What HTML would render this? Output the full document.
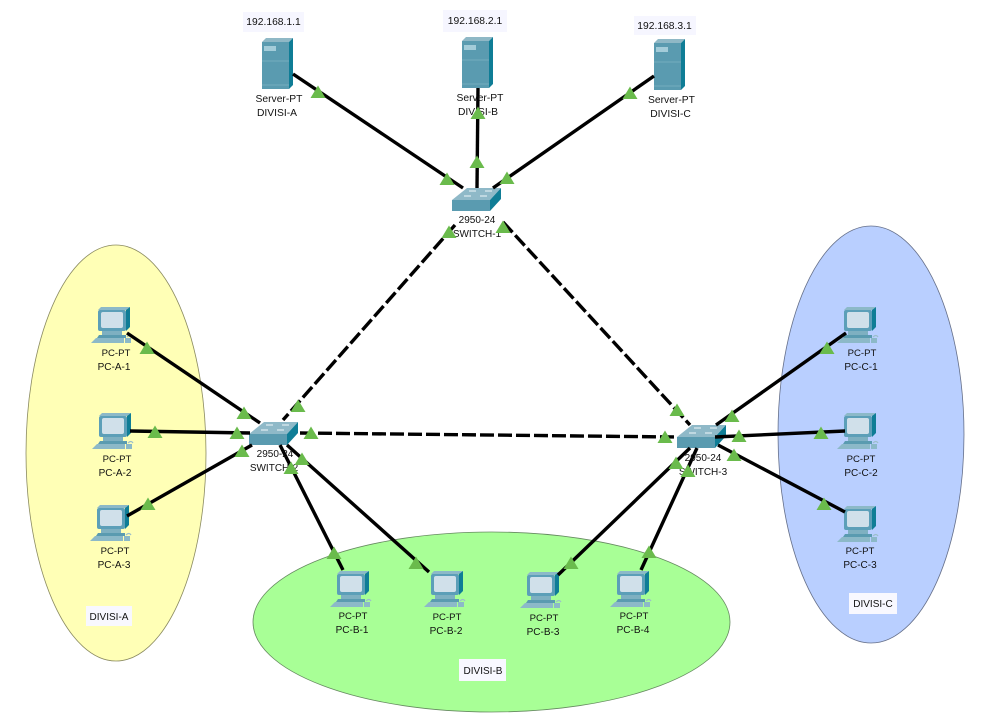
<!DOCTYPE html>
<html><head><meta charset="utf-8"><style>
html,body{margin:0;padding:0;background:#fff}
svg{display:block}
text{font-family:"Liberation Sans",sans-serif;font-size:10.3px;fill:#111;text-anchor:middle}
text.p{font-size:9.6px}
text.q{font-size:10px}
</style></head><body>
<svg width="986" height="725" viewBox="0 0 986 725" xmlns="http://www.w3.org/2000/svg">
<defs>
<g id="srv">
<polygon points="0,4 4,0 31,0 27,4" fill="#8fb8c6"/>
<rect x="0" y="4" width="27" height="47" fill="#5a9bb0"/>
<polygon points="27,4 31,0 31,47 27,51" fill="#0f7d96"/>
<rect x="2" y="8" width="12" height="5" fill="#a3ccd9"/>
<line x1="0" y1="23" x2="27" y2="23" stroke="#74acbe"/>
<line x1="0" y1="47" x2="27" y2="47" stroke="#74acbe"/>
</g>
<g id="pc">
<polygon points="0,3 3,0 32,0 28,3" fill="#8cb9c8"/>
<rect x="0" y="3" width="28" height="21" rx="2" fill="#5c9fb8"/>
<polygon points="28,3 32,0 32,20 28,24" fill="#0f7d96"/>
<rect x="3" y="5" width="22" height="16" rx="2" fill="#d0e0ea"/>
<rect x="4" y="24" width="20" height="4" fill="#7eb0c1"/>
<polygon points="1,28 28,28 28,31 -1,31" fill="#5a9bb0"/>
<polygon points="-2,31 26,31 26,36 -7,36" fill="#8cb9c8"/>
<path d="M29 30q3-3 5 0" fill="none" stroke="#9cbfca" stroke-width="1.2"/>
<rect x="27" y="31" width="6" height="5" fill="#8cb9c8"/>
</g>
<g id="sw">
<polygon points="0,12 15,0 49,0 38,12" fill="#8fb9c8"/>
<rect x="0" y="12" width="38" height="11" fill="#5a9bb0"/>
<polygon points="38,12 49,0 49,11 38,23" fill="#0f7d96"/>
<path d="M17 3h7M33 3h7M12 8h7M28 8h7" stroke="#dcebf0" stroke-width="1.2"/>
</g>
<polygon id="t" points="0,-6.5 7.5,6 -7.5,6" fill="#6abb4c"/>
</defs>

<ellipse cx="116" cy="453" rx="90" ry="208" fill="#ffffb6" stroke="#8a8a60" stroke-width=".8"/>
<ellipse cx="871" cy="434.5" rx="93" ry="208.5" fill="#b9cfff" stroke="#66708a" stroke-width=".8"/>
<ellipse cx="491.500" cy="622" rx="238.500" ry="90" fill="#a8ff96" stroke="#668a60" stroke-width=".8"/>

<rect x="243" y="12" width="61" height="20" fill="#f6f6ff"/>
<rect x="443" y="10" width="64" height="22" fill="#f6f6ff"/>
<rect x="634" y="16" width="62" height="19" fill="#f6f6ff"/>
<text x="273.500" y="25">192.168.1.1</text>
<text x="475" y="24">192.168.2.1</text>
<text x="664.500" y="29">192.168.3.1</text>

<use href="#srv" x="262" y="38"/>
<use href="#srv" x="462" y="37"/>
<use href="#srv" x="654" y="39"/>
<use href="#sw" x="452" y="188"/>
<use href="#sw" x="249" y="422"/>
<use href="#sw" x="677" y="425"/>
<use href="#pc" x="98" y="307"/>
<use href="#pc" x="99" y="413"/>
<use href="#pc" x="97" y="505"/>
<use href="#pc" x="337" y="571"/>
<use href="#pc" x="431" y="571"/>
<use href="#pc" x="527" y="572"/>
<use href="#pc" x="617" y="571"/>
<use href="#pc" x="844" y="307"/>
<use href="#pc" x="844" y="413"/>
<use href="#pc" x="844" y="506"/>

<g stroke="#000" stroke-width="3.4" fill="none">
<line x1="293" y1="74" x2="463" y2="188"/>
<line x1="478" y1="88" x2="477" y2="188"/>
<line x1="654" y1="76" x2="493" y2="188"/>
<g stroke-dasharray="14 4">
<line x1="455" y1="225" x2="283" y2="420"/>
<line x1="503" y1="222" x2="690" y2="425"/>
<line x1="300" y1="433" x2="677" y2="437"/>
</g>
<line x1="127" y1="333" x2="260" y2="423"/>
<line x1="130" y1="431" x2="250" y2="433"/>
<line x1="127" y1="516" x2="252" y2="445"/>
<line x1="280" y1="445" x2="343" y2="570"/>
<line x1="287" y1="445" x2="429" y2="572"/>
<line x1="690" y1="448" x2="558" y2="575"/>
<line x1="697" y1="448" x2="641" y2="570"/>
<line x1="716" y1="425" x2="846" y2="333"/>
<line x1="715" y1="437" x2="845" y2="431"/>
<line x1="718" y1="445" x2="845" y2="512"/>
</g>

<text x="279" y="102">Server-PT</text><text x="277" y="116">DIVISI-A</text>
<text x="480" y="101">Server-PT</text><text x="478" y="115">DIVISI-B</text>
<text x="671.500" y="103">Server-PT</text><text x="670.500" y="117">DIVISI-C</text>
<text class="q" x="477" y="223">2950-24</text><text class="q" x="477" y="237">SWITCH-1</text>
<text class="q" x="275" y="457">2950-24</text><text class="q" x="274" y="471">SWITCH-2</text>
<text class="q" x="703" y="461">2950-24</text><text class="q" x="703" y="475">SWITCH-3</text>
<text class="p" x="116" y="356">PC-PT</text><text class="q" x="114" y="370">PC-A-1</text>
<text class="p" x="117" y="462">PC-PT</text><text class="q" x="115" y="476">PC-A-2</text>
<text class="p" x="115" y="554">PC-PT</text><text class="q" x="114" y="568">PC-A-3</text>
<text class="p" x="353" y="619">PC-PT</text><text class="q" x="352" y="633">PC-B-1</text>
<text class="p" x="447" y="620">PC-PT</text><text class="q" x="446" y="634">PC-B-2</text>
<text class="p" x="544" y="621">PC-PT</text><text class="q" x="543" y="635">PC-B-3</text>
<text class="p" x="634" y="619">PC-PT</text><text class="q" x="633" y="633">PC-B-4</text>
<text class="p" x="862" y="356">PC-PT</text><text class="q" x="861" y="370">PC-C-1</text>
<text class="p" x="861" y="462">PC-PT</text><text class="q" x="861" y="476">PC-C-2</text>
<text class="p" x="860" y="554">PC-PT</text><text class="q" x="860" y="568">PC-C-3</text>

<rect x="86" y="606" width="46" height="20" fill="#f8f8ff"/>
<text class="q" x="109" y="620">DIVISI-A</text>
<rect x="459" y="659" width="47" height="22" fill="#f8f8ff"/>
<text class="q" x="483" y="674">DIVISI-B</text>
<rect x="849" y="593" width="48" height="21" fill="#f8f8ff"/>
<text class="q" x="873" y="607">DIVISI-C</text>

<use href="#t" x="318" y="92"/><use href="#t" x="447" y="179"/><use href="#t" x="478" y="113"/>
<use href="#t" x="477" y="162"/><use href="#t" x="507" y="178"/><use href="#t" x="630" y="93"/>
<use href="#t" x="449" y="232"/><use href="#t" x="503" y="227"/><use href="#t" x="298" y="406"/>
<use href="#t" x="677" y="410"/><use href="#t" x="311" y="433"/><use href="#t" x="665" y="437"/>
<use href="#t" x="147" y="348"/><use href="#t" x="244" y="413"/><use href="#t" x="155" y="432"/>
<use href="#t" x="237" y="433"/><use href="#t" x="148" y="504"/><use href="#t" x="242" y="451"/>
<use href="#t" x="302" y="459"/><use href="#t" x="291" y="468"/><use href="#t" x="334" y="553"/>
<use href="#t" x="416" y="563"/><use href="#t" x="571" y="563"/><use href="#t" x="649" y="552"/>
<use href="#t" x="688" y="471"/><use href="#t" x="676" y="463"/><use href="#t" x="732" y="416"/>
<use href="#t" x="739" y="436"/><use href="#t" x="734" y="455"/><use href="#t" x="827" y="348"/>
<use href="#t" x="821" y="433"/><use href="#t" x="824" y="504"/>
</svg>
</body></html>
